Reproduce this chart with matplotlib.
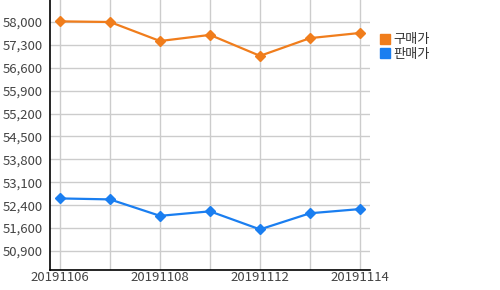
import numpy as np
import matplotlib
matplotlib.use('Agg')
import matplotlib.pyplot as plt
from matplotlib.lines import Line2D

plt.rcParams['font.family'] = ['Noto Sans CJK KR', 'DejaVu Sans']

dates = ['20191106', '20191107', '20191108', '20191111',
         '20191112', '20191113', '20191114']
buy = [58020, 58000, 57410, 57600, 56950, 57500, 57660]
sell = [52530, 52500, 51990, 52130, 51570, 52070, 52200]

y_labels = ['50,900', '51,600', '52,400', '53,100', '53,800', '54,500',
            '55,200', '55,900', '56,600', '57,300', '58,000']
shown_x = ['20191106', '20191108', '20191112', '20191114']

orange = '#f07d1c'
blue = '#1a7ef0'

fig = plt.figure(figsize=(5, 2.9), dpi=100)
ax = fig.add_axes([0.1, 20 / 290, 0.64, 270 / 290])

x = np.arange(len(dates))
ax.plot(x, buy, color=orange, lw=1.6, marker='D', ms=5.5)
ax.plot(x, sell, color=blue, lw=1.6, marker='D', ms=5.5)

ax.set_xlim(-0.2, len(dates) - 0.8)
ax.set_ylim(50311, 58682)

yt = np.linspace(50900, 58000, len(y_labels))
ax.set_yticks(yt)
ax.set_yticklabels(y_labels)
ax.set_xticks(x)
ax.set_xticklabels([d if d in shown_x else '' for d in dates])

ax.grid(True, color='#cccccc', lw=1)
ax.set_axisbelow(True)
for s in ['top', 'right']:
    ax.spines[s].set_visible(False)
for s in ['left', 'bottom']:
    ax.spines[s].set_color('black')
    ax.spines[s].set_linewidth(1.2)
ax.tick_params(length=0, labelsize=9.5, colors='#444444', pad=5)
ax.tick_params(axis='x', pad=1)

handles = [Line2D([], [], ls='none', marker='s', ms=7, color=orange),
           Line2D([], [], ls='none', marker='s', ms=7, color=blue)]
fig.legend(handles, ['구매가', '판매가'], loc='upper left',
           bbox_to_anchor=(374 / 500, 1 - 28 / 290), frameon=False,
           fontsize=9.5, handlelength=0.8, handletextpad=0.3,
           labelspacing=0.1, borderaxespad=0, labelcolor='#333333')

fig.savefig('out.png', dpi=100)
